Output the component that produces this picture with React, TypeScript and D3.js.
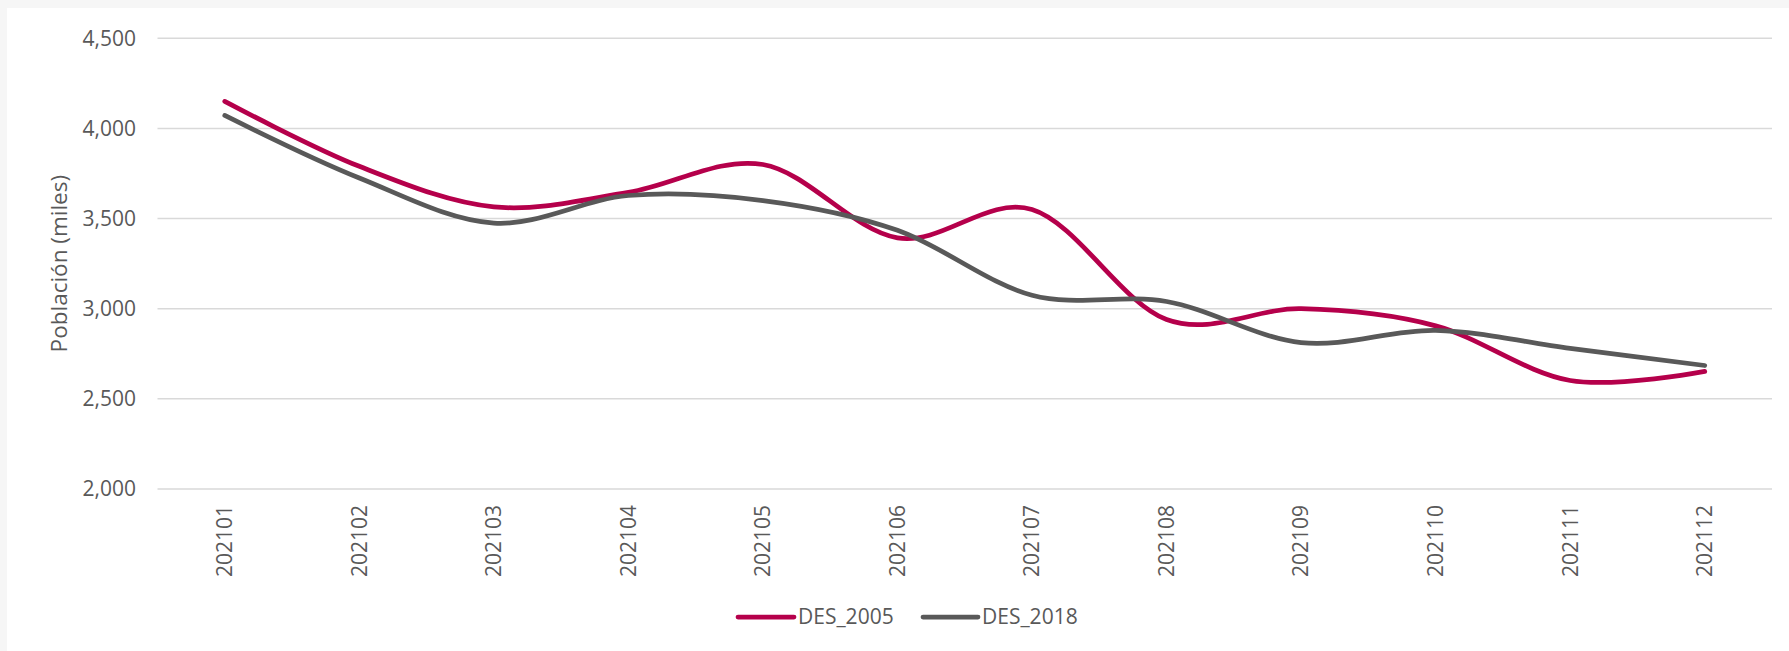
import React from 'react';
import * as d3 from 'd3';

// Monthly population series (thousands)
const categories = ['202101', '202102', '202103', '202104', '202105', '202106', '202107', '202108', '202109', '202110', '202111', '202112'];
const des2005 = [4150, 3790, 3565, 3645, 3800, 3393, 3550, 2940, 3000, 2905, 2602, 2652];
const des2018 = [4072, 3725, 3475, 3628, 3600, 3435, 3075, 3040, 2812, 2880, 2780, 2685];
const yTicks = [2000, 2500, 3000, 3500, 4000, 4500];
const seriesNames = ['DES_2005', 'DES_2018'];
const seriesColors = ['#B5004B', '#595959'];

const W = 1789;
const H = 651;
const FONT = '"Open Sans", sans-serif';
const TEXT = '#595959';

export default function App() {
  const margin = { left: 157.5, right: 17, top: 38.3, bottom: 162 };
  const x = d3.scaleBand<string>()
    .domain(categories)
    .range([margin.left, W - margin.right]);
  const y = d3.scaleLinear()
    .domain([2000, 4500])
    .range([H - margin.bottom, margin.top]);

  const line = d3.line<number>()
    .x((_, i) => (x(categories[i]) as number) + x.bandwidth() / 2)
    .y(d => y(d))
    .curve(d3.curveCardinal.tension(0));

  const series = [des2005, des2018];
  const fmt = d3.format(',');

  // legend layout
  const legendY = 617;
  const legendItems = [
    { x0: 738, x1: 794, tx: 798 },
    { x0: 923, x1: 978, tx: 982 },
  ];

  return (
    <svg width={W} height={H} style={{ position: 'absolute', left: 0, top: 0, display: 'block' }}>
      <rect x={0} y={0} width={W} height={H} fill="#f6f6f6" />
      <rect x={7} y={8} width={W - 7} height={H - 8} fill="#ffffff" />

      {/* gridlines */}
      {yTicks.map(t => (
        <line key={t} x1={margin.left} x2={W - margin.right} y1={y(t)} y2={y(t)}
          stroke="#d9d9d9" strokeWidth={1.5} />
      ))}

      {/* y tick labels */}
      {yTicks.map(t => (
        <text key={'l' + t} x={136} y={y(t)} dy="0.35em" textAnchor="end"
          fontFamily={FONT} fontSize={21} fill={TEXT}>{fmt(t)}</text>
      ))}

      {/* y title */}
      <text transform={`translate(59,${(y(2000) + y(4500)) / 2}) rotate(-90)`} textAnchor="middle"
        dy="0.35em" fontFamily={FONT} fontSize={22.5} fill={TEXT}>Población (miles)</text>

      {/* x labels */}
      {categories.map(c => {
        const cx = (x(c) as number) + x.bandwidth() / 2;
        return (
          <text key={c} transform={`translate(${cx},505) rotate(-90)`} textAnchor="end"
            dy="0.35em" fontFamily={FONT} fontSize={21} fill={TEXT}>{c}</text>
        );
      })}

      {/* series */}
      {series.map((s, i) => (
        <path key={seriesNames[i]} d={line(s) || ''} fill="none" stroke={seriesColors[i]}
          strokeWidth={4.75} strokeLinecap="round" strokeLinejoin="round" />
      ))}

      {/* legend */}
      {legendItems.map((it, i) => (
        <g key={'leg' + i}>
          <line x1={it.x0} x2={it.x1} y1={legendY} y2={legendY} stroke={seriesColors[i]}
            strokeWidth={4.75} strokeLinecap="round" />
          <text x={it.tx} y={legendY} dy="0.35em" fontFamily={FONT} fontSize={21} fill={TEXT}>
            {seriesNames[i]}
          </text>
        </g>
      ))}
    </svg>
  );
}
